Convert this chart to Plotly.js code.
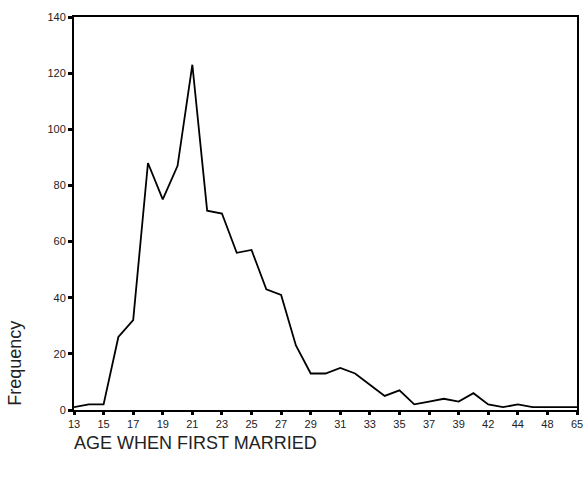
<!DOCTYPE html>
<html>
<head>
<meta charset="utf-8">
<script src="https://cdn.plot.ly/plotly-3.0.1.min.js"></script>
<style>html,body{margin:0;padding:0;background:#fff;}#chart{width:585px;height:479px;}</style>
</head>
<body>
<div id="chart"></div>
<script>
const ages = ["13","14","15","16","17","18","19","20","21","22","23","24","25","26","27","28","29","30","31","32","33","34","35","36","37","38","39","40","42","43","44","46","48","53","65"];
const frequency = [1,2,2,26,32,88,75,87,123,71,70,56,57,43,41,23,13,13,15,13,9,5,7,2,3,4,3,6,2,1,2,1,1,1,1];
const tickLabels = ["13","15","17","19","21","23","25","27","29","31","33","35","37","39","42","44","48","65"];
const yTicks = [0,20,40,60,80,100,120,140];

const trace = {
  x: ages, y: frequency, type: 'scatter', mode: 'lines',
  line: {color: '#000', width: 1.8}, hoverinfo: 'x+y'
};
const layout = {
  width: 585, height: 479,
  margin: {l: 74, r: 8, t: 17, b: 69},
  paper_bgcolor: '#fff', plot_bgcolor: '#fff',
  showlegend: false,
  font: {family: 'Liberation Sans, Arial, sans-serif', color: '#222', size: 11},
  xaxis: {
    type: 'category', categoryorder: 'array', categoryarray: ages,
    range: [0, ages.length - 1],
    tickmode: 'array', tickvals: tickLabels, ticktext: tickLabels,
    ticks: 'outside', ticklen: 3, tickwidth: 3, tickcolor: '#000',
    showline: true, linecolor: '#000', linewidth: 2, mirror: true,
    showgrid: false, zeroline: false,
    tickfont: {size: 11, color: '#222'}
  },
  yaxis: {
    range: [0, 140], tickmode: 'array', tickvals: yTicks,
    ticks: 'outside', ticklen: 4, tickwidth: 3, tickcolor: '#000',
    showline: true, linecolor: '#000', linewidth: 2, mirror: true,
    showgrid: false, zeroline: false,
    tickfont: {size: 11, color: '#222'}
  },
  annotations: [
    {text: 'Frequency', xref: 'paper', yref: 'paper', x: -0.119, y: 0.118,
     xanchor: 'center', yanchor: 'middle', textangle: -90, showarrow: false,
     font: {size: 18, color: '#222'}},
    {text: 'AGE WHEN FIRST MARRIED', xref: 'paper', yref: 'paper', x: -0.004, y: -0.084,
     xanchor: 'left', yanchor: 'middle', showarrow: false,
     font: {size: 18, color: '#222'}}
  ]
};
Plotly.newPlot('chart', [trace], layout, {displayModeBar: false, staticPlot: true});
</script>
</body>
</html>
